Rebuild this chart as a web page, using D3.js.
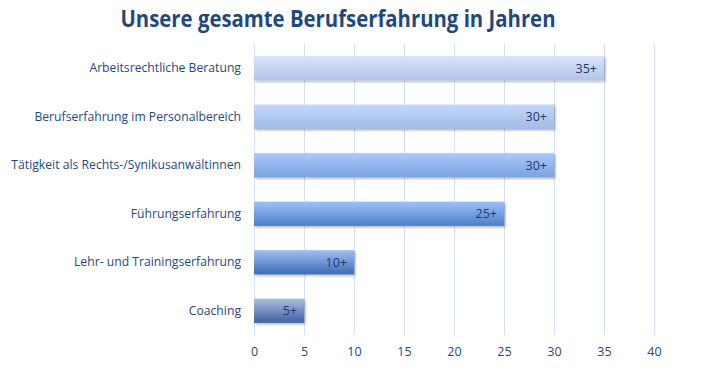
<!DOCTYPE html>
<html><head><meta charset="utf-8">
<script src="https://cdn.jsdelivr.net/npm/d3@7"></script>
<style>
html,body{margin:0;padding:0;background:#fff;}
text{font-family:"Open Sans","Liberation Sans",sans-serif;}
</style></head>
<body><svg id="c" width="713" height="382"></svg>
<script>
const title = "Unsere gesamte Berufserfahrung in Jahren";
const categories = ["Arbeitsrechtliche Beratung","Berufserfahrung im Personalbereich","Tätigkeit als Rechts-/Synikusanwältinnen","Führungserfahrung","Lehr- und Trainingserfahrung","Coaching"];
const values = [35,30,30,25,10,5];
const valueLabels = ["35+","30+","30+","25+","10+","5+"];
const xTicks = [0,5,10,15,20,25,30,35,40];
const gradTop = ["#d8e4fb","#c3d7f9","#abc9fb","#9fc0f9","#a3bff2","#aebcdd"];
const gradBot = ["#b3c4e8","#a2bbe6","#7aa2de","#4c7fca","#3c6bb6","#3d62a3"];

const svg = d3.select("#c");
const W=713,H=382;
const m={l:254,r:59,t:44,b:47};
const x = d3.scaleLinear().domain([0,40]).range([m.l, W-m.r]);
const y = d3.scaleBand().domain(categories).range([m.t, H-m.b]).paddingInner(0.5).paddingOuter(0.25);
const textCol="#1f497d";

const defs = svg.append("defs");
categories.forEach((c,i)=>{
  const g=defs.append("linearGradient").attr("id","g"+i).attr("x1",0).attr("y1",0).attr("x2",0).attr("y2",1);
  g.append("stop").attr("offset","0%").attr("stop-color",gradTop[i]);
  g.append("stop").attr("offset","100%").attr("stop-color",gradBot[i]);
});
const f=defs.append("filter").attr("id","sh").attr("x","-5%").attr("y","-20%").attr("width","115%").attr("height","160%");
f.append("feDropShadow").attr("dx",1.5).attr("dy",1.5).attr("stdDeviation",1.2).attr("flood-color","#000").attr("flood-opacity",0.3);

// title
svg.append("text").attr("x",338).attr("y",27).attr("text-anchor","middle")
  .attr("font-size",23.5).attr("font-weight","bold").attr("fill","#1f497d")
  .attr("textLength",435).attr("lengthAdjust","spacingAndGlyphs").text(title);

// gridlines
svg.append("g").selectAll("line").data(xTicks).join("line")
  .attr("x1",d=>x(d)+0.5).attr("x2",d=>x(d)+0.5).attr("y1",m.t).attr("y2",H-m.b)
  .attr("stroke","#d3e1f2").attr("stroke-width",1);

// x axis labels
const xa = svg.append("g").attr("transform",`translate(0,${H-m.b})`)
  .call(d3.axisBottom(x).tickValues(xTicks).tickSize(0).tickPadding(12));
xa.select(".domain").remove();
xa.selectAll("text").attr("font-size",12.5).attr("fill",textCol).attr("font-family","'Open Sans',sans-serif");

// y axis labels
const ya = svg.append("g").attr("transform",`translate(${m.l},0)`)
  .call(d3.axisLeft(y).tickSize(0).tickPadding(13));
ya.select(".domain").remove();
ya.selectAll("text").attr("font-size",12.2).attr("fill",textCol).attr("font-family","'Open Sans',sans-serif");

// bars
svg.append("g").selectAll("rect").data(values).join("rect")
  .attr("x",x(0)).attr("y",(d,i)=>y(categories[i]))
  .attr("width",d=>x(d)-x(0)).attr("height",y.bandwidth())
  .attr("fill",(d,i)=>`url(#g${i})`).attr("filter","url(#sh)");

// value labels
svg.append("g").selectAll("text").data(values).join("text")
  .attr("x",d=>x(d)-7).attr("y",(d,i)=>y(categories[i])+y.bandwidth()/2)
  .attr("dy","0.35em").attr("text-anchor","end").attr("font-size",12.5).attr("fill","#1f3a6a")
  .text((d,i)=>valueLabels[i]);
</script></body></html>
